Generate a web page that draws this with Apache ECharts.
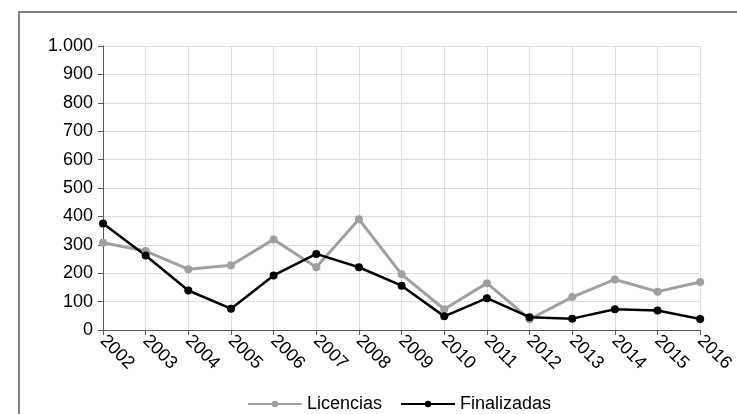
<!DOCTYPE html>
<html>
<head>
<meta charset="utf-8">
<script src="https://cdn.jsdelivr.net/npm/echarts@6/dist/echarts.min.js"></script>
<style>html,body{margin:0;padding:0;background:#fff}#c{width:737px;height:414px}</style>
</head>
<body>
<div id="c"></div>
<script>
var years = ['2002','2003','2004','2005','2006','2007','2008','2009','2010','2011','2012','2013','2014','2015','2016'];
var licencias = [307, 278, 214, 228, 319, 221, 390, 196, 73, 165, 38, 116, 178, 135, 169];
var finalizadas = [375, 262, 139, 75, 192, 268, 221, 156, 48, 112, 45, 40, 73, 69, 39];
var yTicks = [0, 100, 200, 300, 400, 500, 600, 700, 800, 900, 1000];

var FONT = '"Liberation Sans Narrow", "Arial Narrow", "Liberation Sans", Arial, sans-serif';
var chart = echarts.init(document.getElementById('c'));
chart.setOption({
  animation: false,
  backgroundColor: '#fff',
  graphic: [{
    type: 'rect', silent: true,
    shape: { x: 19, y: 12, width: 900, height: 600 },
    style: { fill: 'none', stroke: '#808080', lineWidth: 2 }
  }],
  grid: { left: 103, right: 34, top: 46, bottom: 84, containLabel: false },
  legend: {
    top: 390, left: 242, itemGap: 18, itemWidth: 54, itemHeight: 8,
    textStyle: { fontFamily: FONT, fontSize: 18, color: '#000' },
    data: ['Licencias', 'Finalizadas']
  },
  xAxis: {
    type: 'category', data: years, boundaryGap: false,
    axisLine: { lineStyle: { color: '#595959', width: 1 } },
    axisTick: { show: true, length: 5, lineStyle: { color: '#595959' } },
    splitLine: { show: true, lineStyle: { color: '#dcdcdc', width: 1 } },
    axisLabel: { rotate: -45, margin: 8, fontFamily: FONT, fontSize: 18, color: '#000' }
  },
  yAxis: {
    type: 'value', min: yTicks[0], max: yTicks[yTicks.length - 1], interval: 100,
    axisLine: { show: true, lineStyle: { color: '#595959', width: 1 } },
    axisTick: { show: true, length: 5, lineStyle: { color: '#595959' } },
    splitLine: { show: true, lineStyle: { color: '#dcdcdc', width: 1 } },
    axisLabel: {
      margin: 10, fontFamily: FONT, fontSize: 18, color: '#000',
      formatter: function (v) { return v >= 1000 ? (Math.floor(v / 1000) + '.' + ('00' + (v % 1000)).slice(-3)) : String(v); }
    }
  },
  series: [
    {
      name: 'Licencias', type: 'line', data: licencias,
      symbol: 'circle', symbolSize: 8,
      lineStyle: { color: '#a0a0a0', width: 3 },
      itemStyle: { color: '#a0a0a0' }
    },
    {
      name: 'Finalizadas', type: 'line', data: finalizadas,
      symbol: 'circle', symbolSize: 8,
      lineStyle: { color: '#000', width: 2.5 },
      itemStyle: { color: '#000' }
    }
  ]
});
</script>
</body>
</html>
